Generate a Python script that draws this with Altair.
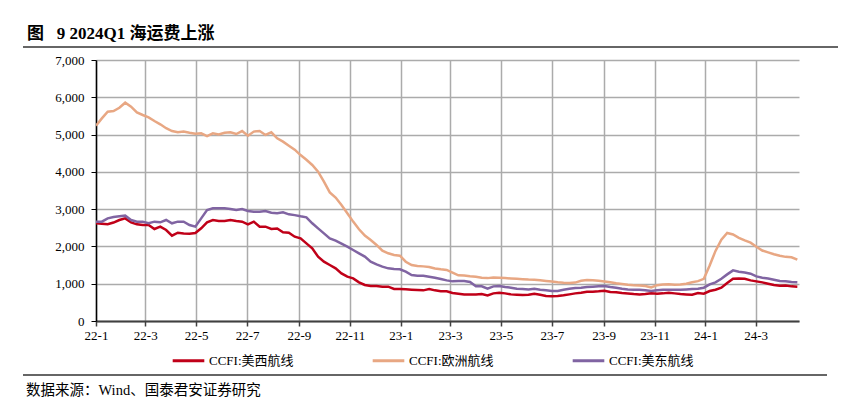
import altair as alt
import pandas as pd

# weekly observation dates (CCFI, weekly)
dates = pd.date_range("2022-01-01", periods=121, freq="7D").strftime("%Y-%m-%dT00:00:00").tolist()

europe = [
    5240, 5435, 5615, 5630, 5720, 5855, 5750, 5595, 5525, 5460,
    5365, 5275, 5170, 5095, 5060, 5080, 5050, 5025, 5035, 4960,
    5035, 5005, 5050, 5060, 5015, 5095, 4970, 5080, 5095, 4990,
    5060, 4900, 4810, 4700, 4595, 4450, 4325, 4185, 4005, 3735,
    3450, 3310, 3110, 2890, 2665, 2460, 2290, 2170, 2040, 1885,
    1815, 1770, 1750, 1590, 1500, 1475, 1465, 1450, 1410, 1385,
    1370, 1300, 1225, 1220, 1200, 1185, 1160, 1150, 1165, 1160,
    1150, 1140, 1130, 1120, 1110, 1105, 1090, 1075, 1060, 1040,
    1025, 1020, 1030, 1080, 1100, 1095, 1080, 1060, 1040, 1010,
    995, 975, 960, 950, 940, 900, 960, 980, 985, 970,
    980, 1000, 1040, 1070, 1130, 1490, 1880, 2180, 2360, 2320,
    2230, 2160, 2100, 1990, 1890, 1840, 1790, 1750, 1720, 1710, 1645,
]

us_east = [
    2664, 2664, 2753, 2790, 2807, 2825, 2709, 2664, 2664, 2620,
    2664, 2646, 2709, 2620, 2664, 2664, 2575, 2530, 2753, 2977,
    3022, 3022, 3022, 3005, 2977, 3005, 2950, 2930, 2930, 2950,
    2905, 2890, 2915, 2860, 2840, 2807, 2780, 2620, 2485, 2351,
    2217, 2155, 2074, 1994, 1904, 1815, 1726, 1591, 1520, 1457,
    1412, 1395, 1386, 1323, 1234, 1216, 1216, 1189, 1160, 1125,
    1089, 1063, 1072, 1072, 1045, 929, 929, 866, 929, 938,
    911, 893, 866, 857, 848, 866, 839, 822, 804, 804,
    839, 866, 884, 893, 911, 920, 929, 938, 911, 893,
    866, 848, 839, 839, 822, 804, 822, 839, 839, 839,
    839, 848, 857, 866, 893, 982, 1036, 1134, 1250, 1357,
    1321, 1300, 1268, 1197, 1161, 1140, 1107, 1072, 1063, 1045, 1036,
]

us_west = [
    2620, 2610, 2593, 2640, 2709, 2753, 2646, 2593, 2575, 2575,
    2467, 2530, 2440, 2289, 2369, 2350, 2342, 2360, 2485, 2646,
    2709, 2682, 2682, 2709, 2682, 2664, 2593, 2664, 2530, 2530,
    2467, 2480, 2378, 2370, 2262, 2217, 2083, 1949, 1725, 1591,
    1502, 1412, 1278, 1189, 1144, 1037, 966, 939, 939, 921,
    921, 858, 858, 849, 840, 831, 822, 858, 822, 800,
    795, 750, 732, 714, 714, 714, 723, 688, 741, 759,
    741, 714, 705, 697, 705, 732, 705, 670, 661, 670,
    688, 714, 741, 759, 786, 786, 795, 813, 777, 770,
    750, 740, 723, 714, 723, 741, 732, 741, 759, 741,
    723, 714, 705, 750, 732, 804, 839, 893, 1018, 1134,
    1143, 1134, 1089, 1063, 1036, 1000, 964, 946, 955, 929, 920,
]

series_names = ["CCFI:美西航线", "CCFI:欧洲航线", "CCFI:美东航线"]
series_colors = ["#C00018", "#E8A783", "#8064A2"]
tick_dates = ["2022-01", "2022-03", "2022-05", "2022-07", "2022-09", "2022-11",
              "2023-01", "2023-03", "2023-05", "2023-07", "2023-09", "2023-11",
              "2024-01", "2024-03"]
y_ticks = [0, 1000, 2000, 3000, 4000, 5000, 6000, 7000]

rows = []
for name, vals in zip(series_names, [us_west, europe, us_east]):
    for d, v in zip(dates, vals):
        rows.append({"date": d, "value": v, "series": name})
df = pd.DataFrame(rows)

FONT = "Liberation Serif, Times New Roman, Noto Sans CJK SC"

tick_vals = [alt.DateTime(year=int(t[:4]), month=int(t[5:]), date=1) for t in tick_dates]

W, H = 703, 261

lines = alt.Chart(df).mark_line(strokeWidth=2.5, clip=True).encode(
    x=alt.X("date:T",
            scale=alt.Scale(domain=[alt.DateTime(year=2022, month=1, date=1),
                                    alt.DateTime(year=2024, month=4, date=22)]),
            axis=alt.Axis(values=tick_vals, format="%y-%-m", title=None,
                          labelFont=FONT, labelFontSize=13, labelColor="#000",
                          labelFlush=False, labelOverlap=False,
                          tickSize=5, tickColor="#404040", tickWidth=1.5,
                          labelPadding=3,
                          domainColor="#404040", domainWidth=2,
                          grid=True, gridColor="#ABABAB", gridWidth=1.5)),
    y=alt.Y("value:Q",
            scale=alt.Scale(domain=[0, 7000], nice=False),
            axis=alt.Axis(values=y_ticks, format=",.0f", title=None,
                          labelFont=FONT, labelFontSize=13, labelColor="#000",
                          tickSize=5, tickColor="#000", tickWidth=1,
                          labelPadding=7,
                          domainColor="#000", domainWidth=1.5,
                          grid=True, gridColor="#ABABAB", gridWidth=1.5)),
    color=alt.Color("series:N",
                    scale=alt.Scale(domain=series_names, range=series_colors),
                    sort=series_names,
                    legend=alt.Legend(orient="none", legendX=75, legendY=283,
                                      direction="horizontal", title=None,
                                      columns=3, gridAlign="all",
                                      symbolType="stroke", symbolSize=1000,
                                      symbolStrokeWidth=3,
                                      labelFont=FONT, labelFontSize=13,
                                      labelColor="#000", labelOffset=3,
                                      columnPadding=72)),
    detail="series:N",
)

title_df = pd.DataFrame({"t": ["图\u00a0\u00a0\u00a09 2024Q1 海运费上涨"]})
title = alt.Chart(title_df).mark_text(
    align="left", baseline="alphabetic", font=FONT, fontSize=17,
    fontWeight="bold", color="#000").encode(
    text="t:N", x=alt.value(-69), y=alt.value(-21))

src_df = pd.DataFrame({"t": ["数据来源：Wind、国泰君安证券研究"]})
source = alt.Chart(src_df).mark_text(
    align="left", baseline="alphabetic", font=FONT, fontSize=14.5,
    color="#000").encode(
    text="t:N", x=alt.value(-70), y=alt.value(335))

top_rule = alt.Chart(title_df).mark_rule(color="#333", strokeWidth=1.5).encode(
    x=alt.value(-73), x2=alt.value(760), y=alt.value(-13))
bot_rule = alt.Chart(title_df).mark_rule(color="#333", strokeWidth=1.5).encode(
    x=alt.value(-73), x2=alt.value(731), y=alt.value(315))

chart = alt.layer(lines, title, source, top_rule, bot_rule).properties(
    width=W, height=H,
    padding={"left": 88, "top": 52, "right": 39, "bottom": 77},
    autosize="none",
).configure_view(stroke=None)

chart.save("out.html", embed_options={"renderer": "svg", "actions": False})
